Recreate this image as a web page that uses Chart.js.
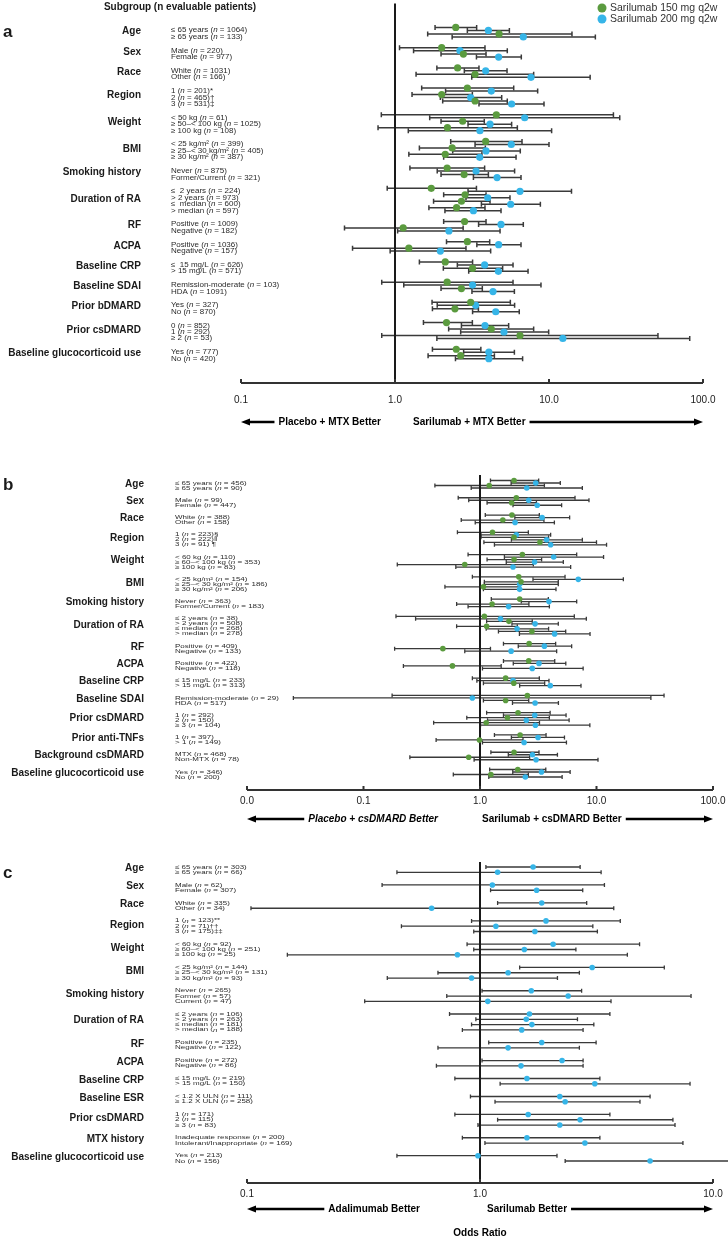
<!DOCTYPE html>
<html>
<head>
<meta charset="utf-8">
<script src="https://cdn.jsdelivr.net/npm/chart.js@4.4.1/dist/chart.umd.min.js"></script>
<style>
  body { margin: 0; background: #fff; width: 728px; height: 1241px; position: relative; overflow: hidden; }
  .panel { position: absolute; left: 0; width: 728px; }
</style>
</head>
<body>
<div class="panel" style="top:0;height:440px"><canvas id="chartA"></canvas></div>
<div class="panel" style="top:440px;height:390px"><canvas id="chartB"></canvas></div>
<div class="panel" style="top:830px;height:411px"><canvas id="chartC"></canvas></div>
<script>
// ---- panel a : sarilumab + MTX vs placebo + MTX ----
const groupsA = ['Age', 'Sex', 'Race', 'Region', 'Weight', 'BMI', 'Smoking history', 'Duration of RA', 'RF', 'ACPA',
  'Baseline CRP', 'Baseline SDAI', 'Prior bDMARD', 'Prior csDMARD', 'Baseline glucocorticoid use']
const rowsA = [
  ['≤ 65 years (n = 1064)', '≥ 65 years (n = 133)'],
  ['Male (n = 220)', 'Female (n = 977)'],
  ['White (n = 1031)', 'Other (n = 166)'],
  ['1 (n = 201)*', '2 (n = 465)†', '3 (n = 531)‡'],
  ['< 50 kg (n = 61)', '≥ 50–< 100 kg (n = 1025)', '≥ 100 kg (n = 108)'],
  ['< 25 kg/m² (n = 399)', '≥ 25–< 30 kg/m² (n = 405)', '≥ 30 kg/m² (n = 387)'],
  ['Never (n = 875)', 'Former/Current (n = 321)'],
  ['≤  2 years (n = 224)', '> 2 years (n = 973)', '≤  median (n = 600)', '> median (n = 597)'],
  ['Positive (n = 1009)', 'Negative (n = 182)'],
  ['Positive (n = 1036)', 'Negative (n = 157)'],
  ['≤  15 mg/L (n = 626)', '> 15 mg/L (n = 571)'],
  ['Remission-moderate (n = 103)', 'HDA (n = 1091)'],
  ['Yes (n = 327)', 'No (n = 870)'],
  ['0 (n = 852)', '1 (n = 292)', '≥ 2 (n = 53)'],
  ['Yes (n = 777)', 'No (n = 420)']
]
const orGreenA = [2.48, 4.74, 2.01, 2.78, 2.55, 3.31, 2.95, 2.01, 3.31, 4.55, 2.75, 2.19, 3.88, 2.35, 2.12, 2.18, 2.81, 1.72, 2.85, 2.70, 2.51, 2.83, 1.13, 2.95, 1.23, 2.12, 3.19, 2.18, 2.70, 3.10, 2.45, 2.16, 4.22, 6.48, 2.50, 2.67]
const loGreenA = [1.82, 1.63, 1.07, 1.99, 1.87, 1.37, 1.49, 1.29, 2.04, 0.815, 1.99, 0.776, 2.30, 1.44, 1.23, 1.25, 1.99, 0.89, 2.07, 1.78, 1.66, 2.07, 0.47, 2.16, 0.53, 1.44, 2.06, 0.82, 1.99, 1.74, 1.75, 1.53, 2.23, 0.82, 1.75, 1.64]
const hiGreenA = [3.39, 14.1, 3.84, 3.90, 3.51, 7.95, 5.90, 3.18, 5.36, 26.2, 3.80, 6.23, 6.68, 3.86, 3.67, 3.82, 4.04, 3.38, 3.90, 4.14, 3.84, 3.90, 2.77, 4.12, 2.89, 3.19, 5.00, 5.84, 3.69, 5.61, 3.48, 3.18, 7.95, 51, 3.61, 4.42]
const orBlueA = [4.04, 6.81, 2.64, 4.71, 3.88, 7.64, 4.22, 3.10, 5.72, 6.95, 4.14, 3.56, 5.69, 3.90, 3.55, 3.36, 4.60, 6.48, 4.00, 5.64, 3.23, 4.88, 2.24, 4.71, 1.97, 3.82, 4.69, 3.19, 4.33, 3.34, 4.51, 3.84, 5.10, 12.3, 4.07, 4.07]
const loBlueA = [2.95, 2.35, 1.32, 3.38, 2.82, 3.15, 2.13, 1.97, 3.51, 1.68, 2.98, 1.22, 3.31, 2.37, 2.07, 1.88, 3.23, 2.98, 2.89, 3.64, 2.11, 3.49, 1.04, 3.40, 0.93, 2.54, 3.01, 1.14, 3.16, 1.88, 3.19, 2.70, 2.67, 1.87, 2.79, 2.47]
const hiBlueA = [5.53, 20.0, 5.36, 6.61, 5.34, 18.5, 8.44, 4.93, 9.28, 28.8, 5.72, 10.4, 10.0, 6.51, 6.11, 5.98, 6.58, 14.0, 5.58, 8.79, 4.88, 6.81, 4.81, 6.58, 4.18, 5.84, 7.31, 8.87, 5.96, 5.98, 6.41, 5.47, 9.95, 82, 5.96, 6.74]
const ticksA = [0.1, 1, 10, 100]
const tickLabelsA = ['0.1', '1.0', '10.0', '100.0']

// ---- panel b : sarilumab + csDMARD vs placebo + csDMARD ----
const groupsB = ['Age', 'Sex', 'Race', 'Region', 'Weight', 'BMI', 'Smoking history', 'Duration of RA', 'RF', 'ACPA',
  'Baseline CRP', 'Baseline SDAI', 'Prior csDMARD', 'Prior anti-TNFs', 'Background csDMARD', 'Baseline glucocorticoid use']
const rowsB = [
  ['≤ 65 years (n = 456)', '≥ 65 years (n = 90)'],
  ['Male (n = 99)', 'Female (n = 447)'],
  ['White (n = 388)', 'Other (n = 158)'],
  ['1 (n = 223)§', '2 (n = 222)‖', '3 (n = 91) ¶'],
  ['< 60 kg (n = 110)', '≥ 60–< 100 kg (n = 353)', '≥ 100 kg (n = 83)'],
  ['< 25 kg/m² (n = 154)', '≥ 25–< 30 kg/m² (n = 186)', '≥ 30 kg/m² (n = 206)'],
  ['Never (n = 363)', 'Former/Current (n = 183)'],
  ['≤ 2 years (n = 38)', '> 2 years (n = 508)', '≤ median (n = 268)', '> median (n = 278)'],
  ['Positive (n = 409)', 'Negative (n = 133)'],
  ['Positive (n = 422)', 'Negative (n = 118)'],
  ['≤ 15 mg/L (n = 233)', '> 15 mg/L (n = 313)'],
  ['Remission-moderate (n = 29)', 'HDA (n = 517)'],
  ['1 (n = 292)', '2 (n = 150)', '≥ 3 (n = 104)'],
  ['1 (n = 397)', '> 1 (n = 149)'],
  ['MTX (n = 468)', 'Non-MTX (n = 78)'],
  ['Yes (n = 346)', 'No (n = 200)']
]
const orGreenB = [1.96, 1.20, 2.05, 1.87, 1.88, 1.57, 1.28, 1.96, 3.27, 2.31, 1.96, 0.74, 2.15, 2.25, 1.07, 2.19, 1.27, 1.09, 1.77, 1.14, 2.79, 2.64, 0.48, 2.62, 0.58, 1.66, 1.95, 2.55, 1.66, 2.12, 1.72, 1.13, 2.21, 0.99, 1.96, 0.80, 2.11, 1.24]
const loGreenB = [1.23, 0.41, 0.65, 1.15, 1.11, 0.69, 0.64, 1.02, 1.08, 0.79, 1.15, 0.195, 0.86, 1.09, 0.50, 1.25, 0.63, 0.19, 1.14, 0.63, 1.44, 1.59, 0.185, 1.59, 0.22, 0.86, 1.07, 0.176, 1.07, 1.14, 0.77, 0.40, 1.33, 0.42, 1.24, 0.25, 1.21, 0.59]
const hiGreenB = [3.19, 3.57, 6.54, 3.05, 3.23, 3.54, 2.60, 3.88, 10.0, 6.76, 3.38, 2.87, 5.37, 4.70, 2.20, 3.86, 2.63, 6.45, 2.81, 2.09, 5.44, 4.46, 1.23, 4.38, 1.52, 3.23, 3.59, 38.0, 2.62, 4.00, 3.94, 3.24, 3.69, 2.34, 3.21, 2.67, 3.67, 2.60]
const orBlueB = [3.01, 2.52, 2.62, 3.10, 3.41, 2.00, 2.05, 3.73, 4.04, 4.29, 2.94, 1.92, 6.98, 2.19, 2.19, 3.91, 1.76, 1.50, 2.97, 2.08, 4.37, 3.57, 1.85, 3.21, 2.81, 1.92, 4.01, 0.86, 2.97, 2.95, 2.50, 2.99, 3.15, 2.39, 2.82, 3.03, 3.37, 2.45]
const loBlueB = [1.85, 0.84, 0.80, 1.92, 1.99, 0.91, 1.02, 1.86, 1.33, 1.62, 1.68, 0.62, 2.85, 1.09, 1.07, 2.26, 0.79, 0.28, 1.88, 1.13, 2.18, 2.13, 0.74, 1.93, 1.05, 0.94, 2.19, 0.025, 1.90, 1.59, 1.16, 1.01, 1.86, 1.05, 1.75, 0.89, 1.91, 1.19]
const hiBlueB = [4.89, 7.56, 8.62, 5.02, 5.88, 4.35, 4.04, 7.56, 12.2, 11.5, 5.19, 6.00, 17.0, 4.70, 4.49, 6.76, 3.94, 8.18, 4.70, 3.88, 8.80, 6.12, 4.55, 5.45, 7.68, 3.91, 7.36, 29.3, 4.71, 5.48, 5.82, 8.77, 5.31, 5.52, 4.62, 10.3, 5.94, 5.07]
const ticksB = [0.01, 0.1, 1, 10, 100]
const tickLabelsB = ['0.0', '0.1', '1.0', '10.0', '100.0']

// ---- panel c : sarilumab vs adalimumab ----
const groupsC = ['Age', 'Sex', 'Race', 'Region', 'Weight', 'BMI', 'Smoking history', 'Duration of RA', 'RF', 'ACPA',
  'Baseline CRP', 'Baseline ESR', 'Prior csDMARD', 'MTX history', 'Baseline glucocorticoid use']
const rowsC = [
  ['≤ 65 years (n = 303)', '≥ 65 years (n = 66)'],
  ['Male (n = 62)', 'Female (n = 307)'],
  ['White (n = 335)', 'Other (n = 34)'],
  ['1 (n = 123)**', '2 (n = 71)††', '3 (n = 175)‡‡'],
  ['< 60 kg (n = 92)', '≥ 60–< 100 kg (n = 251)', '≥ 100 kg (n = 25)'],
  ['< 25 kg/m² (n = 144)', '≥ 25–< 30 kg/m² (n = 131)', '≥ 30 kg/m² (n = 93)'],
  ['Never (n = 265)', 'Former (n = 57)', 'Current (n = 47)'],
  ['≤ 2 years (n = 106)', '> 2 years (n = 263)', '≤ median (n = 181)', '> median (n = 188)'],
  ['Positive (n = 235)', 'Negative (n = 122)'],
  ['Positive (n = 272)', 'Negative (n = 86)'],
  ['≤ 15 mg/L (n = 219)', '> 15 mg/L (n = 150)'],
  ['< 1.2 X ULN (n = 111)', '≥ 1.2 X ULN (n = 258)'],
  ['1 (n = 171)', '2 (n = 115)', '≥ 3 (n = 83)'],
  ['Inadequate response (n = 200)', 'Intolerant/Inappropriate (n = 169)'],
  ['Yes (n = 213)', 'No (n = 156)']
]
const orC = [1.69, 1.19, 1.13, 1.75, 1.84, 0.62, 1.92, 1.17, 1.72, 2.06, 1.55, 0.80, 3.03, 1.32, 0.92, 1.66, 2.39, 1.08, 1.63, 1.58, 1.67, 1.51, 1.84, 1.32, 2.25, 1.50, 1.59, 3.11, 2.20, 2.32, 1.61, 2.69, 2.20, 1.59, 2.82, 0.98, 5.37]
const loC = [1.06, 0.44, 0.38, 1.11, 1.19, 0.104, 0.92, 0.46, 0.94, 0.88, 0.94, 0.149, 1.48, 0.66, 0.40, 1.02, 0.72, 0.32, 0.74, 0.96, 0.92, 0.84, 1.09, 0.66, 1.02, 0.65, 0.78, 1.22, 0.91, 1.16, 0.78, 1.19, 0.98, 0.84, 1.05, 0.44, 2.32]
const hiC = [2.69, 3.31, 3.42, 2.76, 2.87, 3.75, 4.00, 3.05, 3.19, 4.84, 2.58, 4.29, 6.18, 2.67, 2.15, 2.73, 8.05, 3.65, 3.61, 2.62, 3.08, 2.77, 3.15, 2.67, 2.77, 2.77, 3.27, 7.97, 5.37, 4.86, 3.61, 6.73, 6.87, 3.27, 7.43, 2.14, 12.2]
const ticksC = [0.1, 1, 10]
const tickLabelsC = ['0.1', '1.0', '10.0']

const legendLabels = ['Sarilumab 150 mg q2w', 'Sarilumab 200 mg q2w']

const FONT = '"Liberation Sans", Arial, sans-serif'
const GREEN = '#5b9b3f'
const BLUE = '#36b5e8'
const INK = '#1a1a1a'

// y position of each text row: 1 unit per row, extra gap between groups
function rowPositions(rows, gap) {
  const ys = [], centers = []
  let y = 0
  rows.forEach((g, gi) => {
    if (gi > 0) y += gap
    const start = y
    g.forEach(() => { ys.push(y); y += 1 })
    centers.push((start + y - 1) / 2)
  })
  return { ys, centers, span: ys[ys.length - 1] }
}

function drawRowLabel(ctx, s, x, y, size, sy) {
  const k = s.indexOf('(n ')
  const parts = k < 0 ? [[s, '']] : [[s.slice(0, k + 1), ''], ['n', 'italic '], [s.slice(k + 2), '']]
  ctx.save()
  ctx.translate(x, y)
  ctx.scale(1, sy)
  let cx = 0
  parts.forEach(([t, st]) => {
    ctx.font = st + size + 'px ' + FONT
    ctx.fillText(t, cx, 0)
    cx += ctx.measureText(t).width
  })
  ctx.restore()
}

function arrow(ctx, xFrom, xTo, y) {
  const d = Math.sign(xTo - xFrom)
  ctx.lineWidth = 2.5
  ctx.beginPath()
  ctx.moveTo(xFrom, y)
  ctx.lineTo(xTo - d * 6, y)
  ctx.stroke()
  ctx.beginPath()
  ctx.moveTo(xTo, y)
  ctx.lineTo(xTo - d * 9, y - 3.5)
  ctx.lineTo(xTo - d * 9, y + 3.5)
  ctx.closePath()
  ctx.fill()
}

function makeForestPlugin(p, pos) {
  const L = p.layout
  return {
    id: 'forest' + p.letter,
    beforeDatasetsDraw(chart) {
      const ctx = chart.ctx, xs = chart.scales.x, ys = chart.scales.y, a = chart.chartArea
      ctx.save()
      // confidence intervals
      ctx.strokeStyle = '#3a3a3a'
      ctx.lineWidth = L.ciWidth
      chart.data.datasets.forEach(ds => {
        ds.data.forEach((pt, i) => {
          const x1 = xs.getPixelForValue(ds.lo[i]), x2 = xs.getPixelForValue(ds.hi[i])
          const y = ys.getPixelForValue(pt.y)
          ctx.beginPath()
          ctx.moveTo(x1, y); ctx.lineTo(x2, y)
          ctx.moveTo(x1, y - L.cap); ctx.lineTo(x1, y + L.cap)
          ctx.moveTo(x2, y - L.cap); ctx.lineTo(x2, y + L.cap)
          ctx.stroke()
        })
      })
      // line of no effect
      const x1 = xs.getPixelForValue(1)
      ctx.strokeStyle = INK
      ctx.lineWidth = 2
      ctx.beginPath()
      ctx.moveTo(x1, a.top); ctx.lineTo(x1, a.bottom)
      ctx.stroke()
      // axis with upward ticks
      ctx.strokeStyle = '#333'
      ctx.beginPath()
      ctx.moveTo(a.left, a.bottom); ctx.lineTo(a.right, a.bottom)
      p.ticks.forEach(t => {
        const x = xs.getPixelForValue(t)
        ctx.moveTo(x, a.bottom); ctx.lineTo(x, a.bottom - 4)
      })
      ctx.stroke()
      ctx.restore()
    },
    afterDraw(chart) {
      const ctx = chart.ctx, xs = chart.scales.x, ys = chart.scales.y, a = chart.chartArea
      ctx.save()
      ctx.fillStyle = INK
      ctx.textBaseline = 'middle'
      // panel letter
      ctx.font = 'bold 17px ' + FONT
      ctx.textAlign = 'left'
      ctx.fillText(p.letter, 3, L.letterY)
      if (p.header) {
        ctx.font = 'bold 10px ' + FONT
        ctx.textAlign = 'center'
        ctx.fillText(p.header, 180, 7)
      }
      if (p.legend) {
        ctx.font = '10.5px ' + FONT
        ctx.textAlign = 'left'
        p.series.forEach((s, i) => {
          ctx.fillStyle = s.color
          ctx.beginPath()
          ctx.arc(602, 8 + i * 11, 4.5, 0, Math.PI * 2)
          ctx.fill()
          ctx.fillStyle = '#333'
          ctx.fillText(p.legend[i], 610, 8 + i * 11)
        })
      }
      // group and row labels
      ctx.fillStyle = INK
      ctx.textAlign = 'right'
      ctx.font = 'bold 10px ' + FONT
      p.groups.forEach((g, gi) => {
        ctx.fillText(g, L.groupX, ys.getPixelForValue(pos.centers[gi] - L.groupShift))
      })
      ctx.textAlign = 'left'
      ctx.fillStyle = '#2a2a2a'
      let r = 0
      p.rows.forEach(g => g.forEach(s => {
        drawRowLabel(ctx, s, L.rowX, ys.getPixelForValue(pos.ys[r]), 8, L.squash)
        r++
      }))
      // tick labels
      ctx.fillStyle = INK
      ctx.font = '10px ' + FONT
      ctx.textAlign = 'center'
      p.ticks.forEach((t, i) => {
        ctx.fillText(p.tickLabels[i], xs.getPixelForValue(t), a.bottom + L.tickGap)
      })
      // direction labels with arrows
      const ay = a.bottom + L.arrowGap
      ctx.strokeStyle = '#000'
      ctx.fillStyle = '#000'
      ctx.font = (p.leftItalic ? 'italic ' : '') + 'bold 10px ' + FONT
      ctx.textAlign = 'right'
      ctx.fillText(p.leftLabel, L.leftEnd, ay)
      const lw = ctx.measureText(p.leftLabel).width
      arrow(ctx, L.leftEnd - lw - 4, a.left, ay)
      ctx.font = 'bold 10px ' + FONT
      ctx.textAlign = 'left'
      ctx.fillText(p.rightLabel, L.rightStart, ay)
      const rw = ctx.measureText(p.rightLabel).width
      arrow(ctx, L.rightStart + rw + 4, a.right, ay)
      if (p.footer) {
        ctx.textAlign = 'center'
        ctx.fillText(p.footer, xs.getPixelForValue(1), a.bottom + 50)
      }
      ctx.restore()
    }
  }
}

function makeChart(p) {
  const L = p.layout
  const pos = rowPositions(p.rows, L.gap)
  const pxPer = (L.lastRowPx - L.firstRowPx) / pos.span
  const yMin = -(L.firstRowPx - L.top) / pxPer
  const yMax = pos.span + (L.bottom - L.lastRowPx) / pxPer
  const datasets = p.series.map(s => ({
    label: s.label,
    data: s.or.map((v, i) => ({ x: v, y: pos.ys[i] + s.shift })),
    lo: s.lo,
    hi: s.hi,
    backgroundColor: s.color,
    borderColor: s.color,
    borderWidth: 0,
    pointRadius: L.dot,
    pointHoverRadius: L.dot,
    clip: false
  }))
  return new Chart(document.getElementById(p.canvas), {
    type: 'scatter',
    data: { datasets },
    options: {
      responsive: true,
      maintainAspectRatio: false,
      animation: false,
      layout: { padding: { left: L.left, right: 728 - L.right, top: L.top, bottom: L.height - L.bottom } },
      scales: {
        x: { type: 'logarithmic', min: p.ticks[0], max: p.ticks[p.ticks.length - 1], display: false },
        y: { type: 'linear', min: yMin, max: yMax, reverse: true, display: false }
      },
      plugins: { legend: { display: false }, tooltip: { enabled: false } }
    },
    plugins: [makeForestPlugin(p, pos)]
  })
}

makeChart({
  canvas: 'chartA', letter: 'a', header: 'Subgroup (n evaluable patients)', legend: legendLabels,
  groups: groupsA, rows: rowsA, ticks: ticksA, tickLabels: tickLabelsA,
  series: [
    { label: legendLabels[0], or: orGreenA, lo: loGreenA, hi: hiGreenA, color: GREEN, shift: -0.46 },
    { label: legendLabels[1], or: orBlueA, lo: loBlueA, hi: hiBlueA, color: BLUE, shift: 0 }
  ],
  leftLabel: 'Placebo + MTX Better', rightLabel: 'Sarilumab + MTX Better',
  layout: { height: 440, top: 1, bottom: 383, left: 241, right: 703, firstRowPx: 28, lastRowPx: 358.5, gap: 1.13,
    dot: 3.6, cap: 2.5, ciWidth: 1.5, groupX: 141, rowX: 171, groupShift: 0.3, squash: 0.9,
    letterY: 32, tickGap: 17, arrowGap: 39, leftEnd: 381, rightStart: 413 }
})

makeChart({
  canvas: 'chartB', letter: 'b',
  groups: groupsB, rows: rowsB, ticks: ticksB, tickLabels: tickLabelsB,
  series: [
    { label: legendLabels[0], or: orGreenB, lo: loGreenB, hi: hiGreenB, color: GREEN, shift: -0.5 },
    { label: legendLabels[1], or: orBlueB, lo: loBlueB, hi: hiBlueB, color: BLUE, shift: 0 }
  ],
  leftLabel: 'Placebo + csDMARD Better', leftItalic: true, rightLabel: 'Sarilumab + csDMARD Better',
  layout: { height: 390, top: 35, bottom: 350, left: 247, right: 713, firstRowPx: 43, lastRowPx: 337, gap: 1.45,
    dot: 2.8, cap: 2, ciWidth: 1.3, groupX: 144, rowX: 175, groupShift: 0.3, squash: 0.72,
    letterY: 45, tickGap: 11, arrowGap: 29, leftEnd: 438, rightStart: 482 }
})

makeChart({
  canvas: 'chartC', letter: 'c', footer: 'Odds Ratio',
  groups: groupsC, rows: rowsC, ticks: ticksC, tickLabels: tickLabelsC,
  series: [
    { label: 'Sarilumab 200 mg q2w', or: orC, lo: loC, hi: hiC, color: BLUE, shift: 0 }
  ],
  leftLabel: 'Adalimumab Better', rightLabel: 'Sarilumab Better',
  layout: { height: 411, top: 32, bottom: 353, left: 247, right: 713, firstRowPx: 37, lastRowPx: 331, gap: 1.39,
    dot: 2.8, cap: 2, ciWidth: 1.3, groupX: 144, rowX: 175, groupShift: 0.25, squash: 0.72,
    letterY: 43, tickGap: 11, arrowGap: 26, leftEnd: 420, rightStart: 487 }
})
</script>
</body>
</html>
